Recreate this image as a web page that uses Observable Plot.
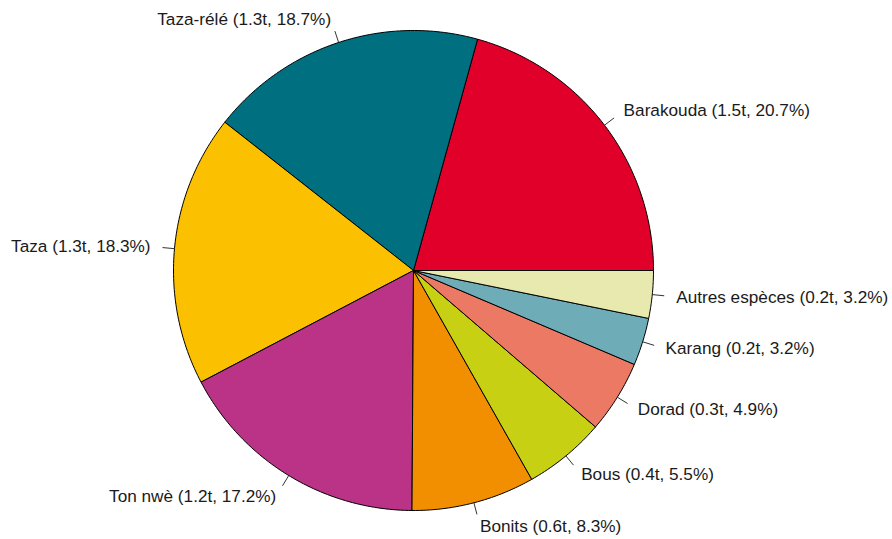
<!DOCTYPE html>
<html>
<head>
<meta charset="utf-8">
<script src="https://cdn.jsdelivr.net/npm/d3@7"></script>
<script src="https://cdn.jsdelivr.net/npm/@observablehq/plot@0.6"></script>
<style>
  html, body { margin: 0; padding: 0; background: #fff; }
  #chart svg { display: block; }
</style>
</head>
<body>
<div id="chart"></div>
<script>
const categories = ["Barakouda", "Taza-rélé", "Taza", "Ton nwè", "Bonits", "Bous", "Dorad", "Karang", "Autres espèces"];
const tonnes = [1.5, 1.3, 1.3, 1.2, 0.6, 0.4, 0.3, 0.2, 0.2];
const percents = [20.7, 18.7, 18.3, 17.2, 8.3, 5.5, 4.9, 3.2, 3.2];
const colors = ["#E1002A", "#006F7F", "#FBC000", "#BA3386", "#F28F00", "#C8D013", "#EC7963", "#6EADB8", "#E8E9AF"];

const total = d3.sum(percents);
const cum = d3.cumsum(percents);
const slices = [];
const ticks = [];
categories.forEach((cat, i) => {
  const a0 = 2 * Math.PI * ((i === 0 ? 0 : cum[i - 1]) / total);
  const a1 = 2 * Math.PI * (cum[i] / total);
  const n = Math.max(2, Math.ceil((a1 - a0) / (2 * Math.PI) * 400));
  slices.push({cat, x: 0, y: 0});
  for (let k = 0; k <= n; k++) {
    const a = a0 + (a1 - a0) * k / n;
    slices.push({cat, x: Math.cos(a), y: Math.sin(a)});
  }
  slices.push({cat, x: 0, y: 0});
  const am = (a0 + a1) / 2;
  ticks.push({
    cat,
    label: `${cat} (${tonnes[i]}t, ${percents[i]}%)`,
    x1: Math.cos(am), y1: Math.sin(am),
    x2: 1.05 * Math.cos(am), y2: 1.05 * Math.sin(am),
    tx: 1.1 * Math.cos(am), ty: 1.1 * Math.sin(am),
    right: Math.cos(am) >= 0
  });
});

const R = 240, cx = 413, cy = 270, W = 892, H = 539;
const chart = Plot.plot({
  width: W,
  height: H,
  margin: 0,
  x: {domain: [-cx / R, (W - cx) / R], axis: null},
  y: {domain: [-(H - cy) / R, cy / R], axis: null},
  color: {domain: categories, range: colors},
  style: {fontFamily: "Liberation Sans, Arial, sans-serif", background: "#fff"},
  marks: [
    Plot.line(slices, {x: "x", y: "y", z: "cat", fill: "cat", stroke: "#000", strokeWidth: 1, strokeLinejoin: "round", curve: "linear"}),
    Plot.link(ticks, {x1: "x1", y1: "y1", x2: "x2", y2: "y2", stroke: "#333", strokeWidth: 1}),
    Plot.text(ticks.filter(d => d.right), {x: "tx", y: "ty", text: "label", textAnchor: "start", fontSize: 17.2, fill: "#1a1a1a"}),
    Plot.text(ticks.filter(d => !d.right), {x: "tx", y: "ty", text: "label", textAnchor: "end", fontSize: 17.2, fill: "#1a1a1a"})
  ]
});
document.getElementById("chart").appendChild(chart);
</script>
</body>
</html>
